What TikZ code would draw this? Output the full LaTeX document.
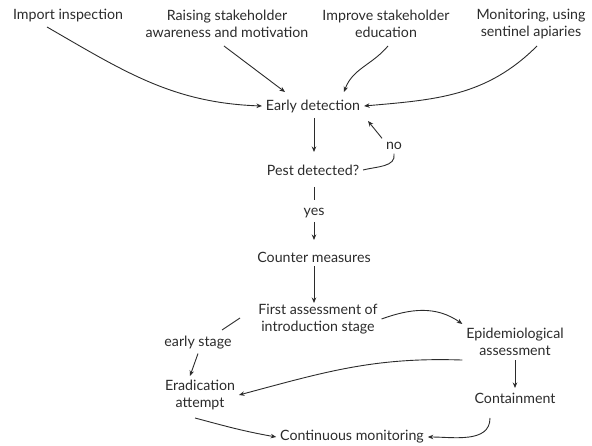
\documentclass[tikz,border=0pt]{standalone}
\usepackage{fontspec}
\setmainfont{Lato}
\usetikzlibrary{arrows.meta, positioning}
\definecolor{ink1}{rgb}{0.17,0.17,0.17}

\begin{document}
\begin{tikzpicture}[x=1pt, y=-1pt]
    \tikzstyle{every node} = [text=ink1, font=\fontsize{14.2}{17.5}\selectfont, align=center, inner sep=1pt, outer sep=3pt]
    \tikzstyle{flow} = [draw=ink1, line width=0.9pt, -{Stealth[length=5.5pt, width=4.5pt]}]
    \tikzstyle{plain} = [draw=ink1, line width=0.9pt]
    \useasboundingbox (0,0) rectangle (592,446);

    \node (imp)    at (68,16)   {Import inspection};
    \node (raise)  at (227,24)  {Raising stakeholder\\awareness and motivation};
    \node (educ)   at (386,24)  {Improve stakeholder\\education};
    \node (senti)  at (531,24)  {Monitoring, using\\sentinel apiaries};
    \node (early)  at (313,106) {Early detection};
    \node (pest)   at (313,170) {Pest detected?};
    \node (no)     at (394,146) {no};
    \node (yes)    at (314,213) {yes};
    \node (count)  at (314,257) {Counter measures};
    \node (first)  at (318,319) {First assessment of\\introduction stage};
    \node (estage) at (198,343) {early stage};
    \node (epi)    at (515,342) {Epidemiological\\assessment};
    \node (erad)   at (200,395) {Eradication\\attempt};
    \node (cont)   at (515,398) {Containment};
    \node (monit)  at (352,437) {Continuous monitoring};

    \draw[flow] (47,27) to[out=-30, in=178] (early.west);
    \draw[flow] (224,46) -- (285,92);
    \draw[flow] (388,46) to[out=-130, in=70] (344,92);
    \draw[flow] (537,46) to[out=-135, in=5] (early.east);

    \draw[flow]  (314,118) -- (314,152);
    \draw[plain] (pest.east) to[out=15, in=-80] (no.south);
    \draw[flow]  (no.north west) -- (368,121);
    \draw[plain] (314,187) -- (314,200);
    \draw[flow]  (yes.south) -- (314,240);
    \draw[flow]  (count.south) -- (314,303);

    \draw[flow]  (first.east) to[out=20, in=145] (epi.north west);
    \draw[plain] (240,318) -- (222,330);
    \draw[flow]  (estage.south) -- (190,376);
    \draw[flow]  (epi.south west) to[out=178, in=15] (erad.east);
    \draw[flow]  (epi.south) -- (515,388);
    \draw[flow]  (195,418) to[out=-15, in=170] (monit.west);
    \draw[flow]  (490,418) to[out=-90, in=0] (monit.east);
\end{tikzpicture}
\end{document}
